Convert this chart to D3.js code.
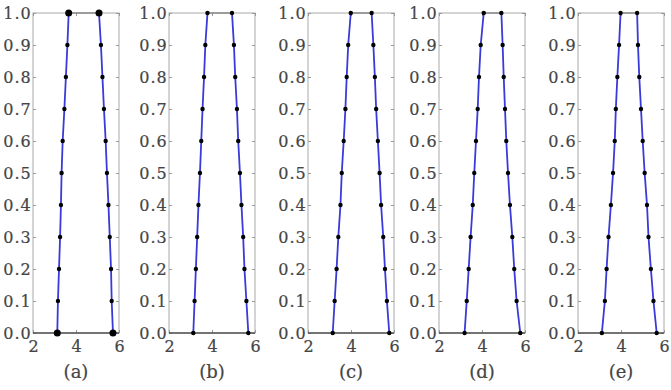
<!DOCTYPE html>
<html>
<head>
<meta charset="utf-8">
<script src="https://cdn.jsdelivr.net/npm/d3@7"></script>
<style>
  body { margin: 0; background: #fff; }
  text { font-family: "DejaVu Serif", serif; fill: #454545; stroke: #454545; stroke-width: 0.2px; }
</style>
</head>
<body>
<div id="chart"></div>
<script>
// DATA
var panelLabels = ["(a)", "(b)", "(c)", "(d)", "(e)"];
var levels = [0.0, 0.1, 0.2, 0.3, 0.4, 0.5, 0.6, 0.7, 0.8, 0.9, 1.0];
var xTicks = [2, 4, 6];
var yTicks = [0.0, 0.1, 0.2, 0.3, 0.4, 0.5, 0.6, 0.7, 0.8, 0.9, 1.0];

// left / right edge of each panel's trapezoid, one value per level (0.0 -> 1.0)
var leftA  = [3.13, 3.16, 3.21, 3.26, 3.30, 3.33, 3.38, 3.46, 3.53, 3.60, 3.66];
var rightA = [5.72, 5.66, 5.63, 5.57, 5.51, 5.44, 5.38, 5.30, 5.23, 5.16, 5.07];
var leftB  = [3.13, 3.19, 3.25, 3.31, 3.37, 3.44, 3.50, 3.56, 3.63, 3.69, 3.79];
var rightB = [5.69, 5.60, 5.51, 5.45, 5.37, 5.30, 5.22, 5.16, 5.08, 5.02, 4.93];
var leftC  = [3.15, 3.24, 3.33, 3.41, 3.51, 3.57, 3.66, 3.74, 3.80, 3.87, 3.99];
var rightC = [5.78, 5.67, 5.58, 5.50, 5.40, 5.33, 5.25, 5.17, 5.11, 5.04, 4.96];
var leftD  = [3.19, 3.29, 3.38, 3.47, 3.57, 3.64, 3.72, 3.80, 3.86, 3.94, 4.08];
var rightD = [5.78, 5.61, 5.50, 5.41, 5.30, 5.21, 5.13, 5.07, 5.01, 4.96, 4.90];
var leftE  = [3.11, 3.25, 3.33, 3.42, 3.53, 3.63, 3.71, 3.76, 3.83, 3.91, 3.98];
var rightE = [5.66, 5.51, 5.39, 5.28, 5.21, 5.10, 5.01, 4.93, 4.85, 4.79, 4.75];

var lefts  = [leftA, leftB, leftC, leftD, leftE];
var rights = [rightA, rightB, rightC, rightD, rightE];

//LAYOUT
var W = 671, H = 390;
var panelX = [33, 169, 308, 439, 578];
var pw = 86, plotTop = 13, plotBottom = 333;

var svg = d3.select("#chart").append("svg")
  .attr("width", W)
  .attr("height", H);

var yScale = d3.scaleLinear().domain([0, 1]).range([plotBottom, plotTop]);

function greyTicks(a) {
  a.select(".domain").remove();
  a.selectAll("line").attr("stroke", "#999");
}

panelLabels.forEach(function(label, p) {
  var xScale = d3.scaleLinear().domain([2, 6]).range([0, pw]);
  var g = svg.append("g").attr("transform", `translate(${panelX[p]},0)`);

  //FRAME
  g.append("rect")
    .attr("x", 0).attr("y", plotTop)
    .attr("width", pw).attr("height", plotBottom - plotTop)
    .attr("fill", "none")
    .attr("stroke", "#b8b8b8")
    .attr("stroke-width", 1.2);

  //INSIDE TICKS (left, right, top, bottom)
  g.append("g").call(d3.axisLeft(yScale).tickValues(yTicks).tickSize(-3).tickFormat(d3.format(".1f")))
    .call(greyTicks)
    .call(function(a) {
      a.selectAll("text").attr("x", -1.5).style("font-size", "16px").style("letter-spacing", "0.9px")
        .attr("font-family", null).attr("fill", null);
    });
  g.append("g").attr("transform", `translate(${pw},0)`)
    .call(d3.axisRight(yScale).tickValues(yTicks).tickSize(-3).tickFormat(""))
    .call(greyTicks);
  g.append("g").attr("transform", `translate(0,${plotBottom})`)
    .call(d3.axisBottom(xScale).tickValues(xTicks).tickSize(-3).tickFormat(d3.format("d")))
    .call(greyTicks)
    .call(function(a) {
      a.selectAll("text").attr("y", 8).style("font-size", "16px")
        .attr("font-family", null).attr("fill", null);
    });
  g.append("g").attr("transform", `translate(0,${plotTop})`)
    .call(d3.axisTop(xScale).tickValues(xTicks).tickSize(-3).tickFormat(""))
    .call(greyTicks);

  var L = lefts[p], R = rights[p];
  var topIdx = levels.length - 1;

  //BASELINE AND TOP CONNECTOR
  g.append("line")
    .attr("x1", xScale(2)).attr("x2", xScale(6))
    .attr("y1", yScale(0)).attr("y2", yScale(0))
    .attr("stroke", "#555").attr("stroke-width", 1.5);
  g.append("line")
    .attr("x1", xScale(L[topIdx])).attr("x2", xScale(R[topIdx]))
    .attr("y1", yScale(1)).attr("y2", yScale(1))
    .attr("stroke", "#777").attr("stroke-width", 1.2);

  //SLOPES
  var line = d3.line()
    .x(function(d) { return xScale(d[0]); })
    .y(function(d) { return yScale(d[1]); });
  [L, R].forEach(function(side) {
    g.append("path")
      .datum(levels.map(function(v, i) { return [side[i], v]; }))
      .attr("d", line)
      .attr("fill", "none")
      .attr("stroke", "#3a3ad8")
      .attr("stroke-width", 1.8);
  });

  //POINTS
  var pts = [];
  levels.forEach(function(v, i) { pts.push([L[i], v]); pts.push([R[i], v]); });
  g.selectAll("circle")
    .data(pts)
    .enter().append("circle")
    .attr("cx", function(d) { return xScale(d[0]); })
    .attr("cy", function(d) { return yScale(d[1]); })
    .attr("r", function(d) { return (p === 0 && (d[1] === 0 || d[1] === 1)) ? 3.5 : 2.2; })
    .attr("fill", "#000");

  //PANEL LABEL
  g.append("text")
    .attr("x", xScale(4))
    .attr("y", 378)
    .attr("text-anchor", "middle")
    .style("font-size", "18px")
    .text(label);
});
</script>
</body>
</html>
